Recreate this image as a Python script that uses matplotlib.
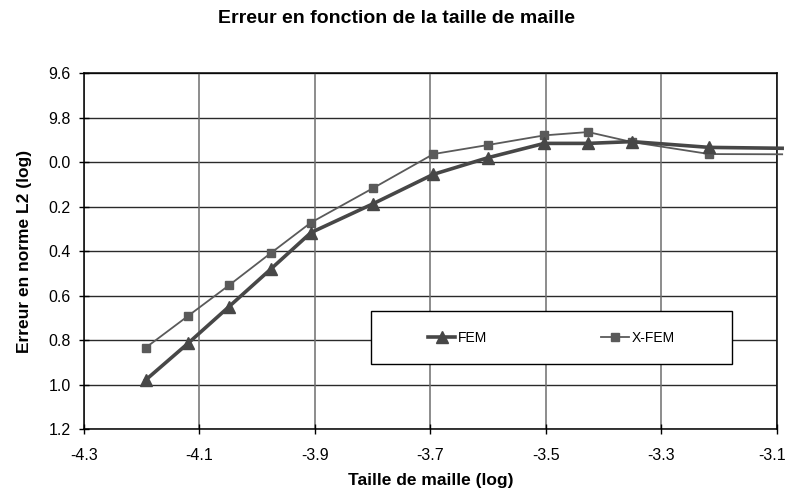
import matplotlib.pyplot as plt
from matplotlib.patches import Rectangle
from matplotlib.transforms import ScaledTranslation

plt.rcParams["font.family"] = ["Liberation Sans", "DejaVu Sans"]

# mesh size (log) for each computation
mesh_log = [-4.193, -4.120, -4.049, -3.977, -3.907, -3.800, -3.695, -3.600,
            -3.503, -3.427, -3.351, -3.217, -3.091]
fem_err = [0.978, 0.814, 0.649, 0.481, 0.316, 0.187, 0.054, -0.021,
           -0.085, -0.085, -0.093, -0.067, -0.063]
xfem_err = [0.833, 0.691, 0.553, 0.409, 0.271, 0.117, -0.037, -0.078,
            -0.121, -0.136, -0.091, -0.037, -0.036]

x_ticks = [-4.3, -4.1, -3.9, -3.7, -3.5, -3.3, -3.1]
y_ticks = [-0.4, -0.2, 0.0, 0.2, 0.4, 0.6, 0.8, 1.0, 1.2]
y_labels = ["9.6", "9.8", "0.0", "0.2", "0.4", "0.6", "0.8", "1.0", "1.2"]

fig = plt.figure(figsize=(7.88, 4.90), dpi=100)
ax = fig.add_axes([0.1066, 0.1239, 0.8794, 0.7265])

for y in y_ticks:
    ax.axhline(y, color="#2a2a2a", lw=1.0, zorder=1)
for x in x_ticks:
    ax.axvline(x, color="#6e6e6e", lw=1.1, zorder=1)

n = len(mesh_log) - 1
ax.plot(mesh_log, fem_err, color="#474747", lw=2.6, marker="^", ms=8,
        markevery=list(range(n)), label="FEM", zorder=4, clip_on=False)
ax.plot(mesh_log, xfem_err, color="#5a5a5a", lw=1.3, marker="s", ms=6,
        markevery=list(range(n)), label="X-FEM", zorder=3, clip_on=False)

ax.set_xlim(-4.3, -3.1)
ax.set_ylim(1.2, -0.4)
ax.set_xticks(x_ticks, [f"{v:.1f}" for v in x_ticks])
ax.set_yticks(y_ticks, y_labels)
ax.tick_params(direction="inout", length=7, width=1, labelsize=11.5, colors="black")
ax.tick_params(axis="x", pad=10)
ax.tick_params(axis="y", pad=6)
for s in ax.spines.values():
    s.set_color("black")
    s.set_linewidth(1.1)

# last x label sits on the figure edge, nudge it in
last = ax.get_xticklabels()[-1]
last.set_transform(last.get_transform() + ScaledTranslation(-5 / 100, 0, fig.dpi_scale_trans))

ax.add_patch(Rectangle((0.414, 0.183), 0.521, 0.149, transform=ax.transAxes,
                       facecolor="white", edgecolor="black", lw=1.0, zorder=5))
ax.legend(loc="center", bbox_to_anchor=(0.6745, 0.2575), ncol=2, frameon=False,
          fontsize=10, columnspacing=8.2, handlelength=2.0, handletextpad=0.2).set_zorder(6)

ax.set_xlabel("Taille de maille (log)", fontsize=12.5, fontweight="bold", labelpad=7)
ax.set_ylabel("Erreur en norme L2 (log)", fontsize=12.5, fontweight="bold", labelpad=12)
fig.text(0.503, 0.963, "Erreur en fonction de la taille de maille", ha="center", va="center",
         fontsize=14, fontweight="bold")

fig.savefig("out.png", dpi=100)
